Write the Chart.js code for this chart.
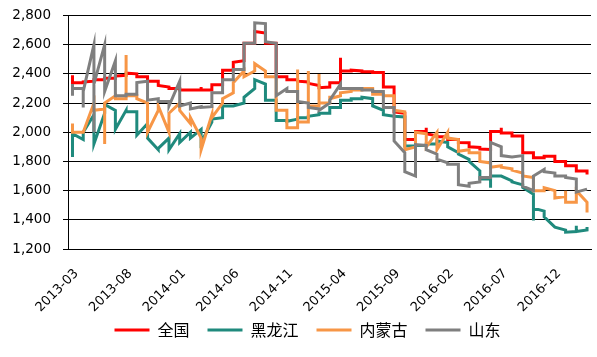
<!DOCTYPE html>
<html><head><meta charset="utf-8">
<script src="https://cdn.jsdelivr.net/npm/chart.js@4/dist/chart.umd.min.js"></script>
<style>html,body{margin:0;padding:0;background:#fff}#wrap{width:597px;height:357px}</style>
</head><body><div id="wrap"><canvas id="c" width="597" height="357"></canvas></div>
<script>
// x tick labels (one every 5 months, month index 0 = 2013-03)
const tickLabels = ['2013-03','2013-08','2014-01','2014-06','2014-11','2015-04','2015-09','2016-02','2016-07','2016-12'];
const seriesNames = ['全国','黑龙江','内蒙古','山东'];
// values per month (weekly readings that fall in the same month share one x)
const quanguo = [[2390,2340],[2340,2345],[2350,2360],[2360,2370],[2370,2385],[2390,2405],[2400,2380],[2380,2350],[2350,2320],[2310,2300],
 [2300,2290],[2290,2290],[2290,2310,2290],[2290,2325],[2325,2425],[2425,2480],[2490,2610],[2610,2690],[2680,2610],[2610,2380],
 [2380,2360],[2360,2350],[2345,2335],[2320,2305],[2310,2340],[2340,2510,2420],[2420,2425],[2420,2415],[2415,2410],[2410,2310],
 [2310,2140],[2130,1950],[1950,2005],[2005,2030,1990],[1975,1970],[1970,1950],[1950,1930],[1928,1900],[1896,1885],[1882,2005],
 [2005,2030,1995],[1995,1975],[1975,1905,1860],[1860,1826],[1826,1845,1835],[1835,1800],[1800,1770],[1770,1735],[1735,1710]];
const heilongjiang = [[1830,1990],[1950,2000],[2120,1920],[2130,2190],[2150,2020],[2150,2140],[2140,1980],[2060,2000,1960],[1880,1890],[1960,1880],
 [1990,1930],[2000,1960],[2020,1930],[2070,2090],[2100,2180],[2180,2180],[2200,2240],[2300,2360],[2330,2220],[2220,2080],
 [2080,2075],[2090,2100],[2100,2110],[2120,2130],[2130,2170],[2170,2220],[2220,2230],[2230,2240],[2230,2180],[2150,2120],
 [2110,2110],[2105,1905],[1905,1910],[1910,1920],[1920,1940],[1930,1900],[1860,1850],[1814,1800],[1735,1680],[1680,1620,1700],
 [1700,1700],[1667,1660],[1640,1622],[1576,1395,1480],[1460,1420],[1350,1350],[1330,1315],[1320,1360,1320],[1330,1350]];
const neimenggu = [[2060,2000],[2000,2000],[2200,2150],[2160,1920,2200],[2250,2230],[2230,2530,2250],[2250,2230],[2200,2000],[2150,2180],[2000,2130],
 [2200,2150],[2060,2100],[1960,1880],[2120,2100],[2200,2230],[2270,2340],[2420,2380],[2420,2470],[2420,2380],[2380,2150],
 [2150,2030],[2030,2430,2070],[2070,2420,2180],[2180,2400,2200],[2200,2250,2230],[2250,2270],[2280,2290],[2290,2300],[2300,2260],[2260,2250],
 [2250,2150],[2140,1880],[1900,2000],[1990,1900],[2000,1880],[2000,1960],[1950,1870],[1880,1860],[1860,1800],[1790,1760],
 [1770,1760],[1750,1740],[1720,1700],[1690,1600],[1600,1620],[1600,1550],[1560,1600,1520],[1520,1600],[1520,1450]];
const shandong = [[2330,2250,2300],[2300,2170,2280],[2600,2000,2330],[2600,2280],[2490,2250],[2250,2260],[2260,2340],[2350,2220],[2230,2210],[2210,2180],
 [2350,2180],[2200,2160],[2175,2170],[2175,2270],[2270,2360],[2360,2430],[2430,2610],[2610,2750],[2745,2620],[2610,2250],
 [2300,2280],[2280,2210],[2200,2170],[2160,2150],[2200,2220],[2330,2300],[2300,2300],[2300,2290],[2290,2280],[2280,2170],
 [2170,1940],[1860,1730],[1700,1915],[1910,1880],[1850,1815],[1790,1780],[1780,1640],[1630,1650],[1660,1690],[1690,1930],
 [1900,1840],[1830,1830],[1840,1630],[1600,1700],[1745,1730],[1720,1700],[1700,1690],[1680,1590],[1610]];
const colors = ['#FF0000','#1F8A7D','#F79646','#7F7F7F'];

function toPoints(monthly){
  const pts=[];
  monthly.forEach((vals,m)=>vals.forEach(v=>pts.push({x:m,y:v})));
  return pts;
}
const all=[quanguo,heilongjiang,neimenggu,shandong];
const datasets = all.map((s,i)=>({
  label: seriesNames[i], data: toPoints(s), borderColor: colors[i], backgroundColor: colors[i],
  borderWidth: 3, pointRadius: 0, tension: 0, order: 3-i, borderJoinStyle:'miter'
}));

const shiftLegend = {
  id: 'shiftLegend',
  afterLayout(chart){ const l = chart.legend; if (l){ l.left += 12; l.right += 12; l.top -= 9; l.bottom -= 9; } }
};

new Chart(document.getElementById('c'), {
  type: 'line',
  data: { datasets },
  plugins: [shiftLegend],
  options: {
    responsive: false, animation: false, devicePixelRatio: 1,
    layout: { padding: { left: 0, right: 6, top: 15.5, bottom: 0 } },
    plugins: {
      tooltip: { enabled: false },
      legend: {
        position: 'bottom',
        labels: { usePointStyle: true, pointStyle: 'line', pointStyleWidth: 35, boxHeight: 4,
          padding: 18, color: '#000', font: { family: '"Noto Sans CJK SC"', size: 16 },
          sort: (a,b)=>a.datasetIndex-b.datasetIndex }
      }
    },
    scales: {
      x: {
        type: 'linear', min: -0.42, max: 48.37,
        afterBuildTicks: sc => { sc.ticks = tickLabels.map((_,i)=>({value:i*5})); },
        afterFit: sc => { sc.height = 64; },
        ticks: { autoSkip: false, minRotation: 45, maxRotation: 45, color: '#000', padding: 17, labelOffset: 4,
          font: { family: '"DejaVu Sans"', size: 13 },
          callback: v => tickLabels[Math.round(v/5)] },
        grid: { display: false, drawTicks: false },
        border: { display: true, color: '#000', width: 1 }
      },
      y: {
        min: 1200, max: 2800,
        afterFit: sc => { sc.width = 68; sc.paddingTop = 0; sc.paddingBottom = 0; },
        ticks: { stepSize: 200, color: '#000', padding: 12,
          font: { family: '"DejaVu Sans"', size: 13.5 },
          callback: v => v.toLocaleString('en-US') },
        grid: { color: '#000', lineWidth: 1, drawTicks: true, tickLength: 5 },
        border: { display: true, color: '#000', width: 1 }
      }
    }
  }
});
</script></body></html>
